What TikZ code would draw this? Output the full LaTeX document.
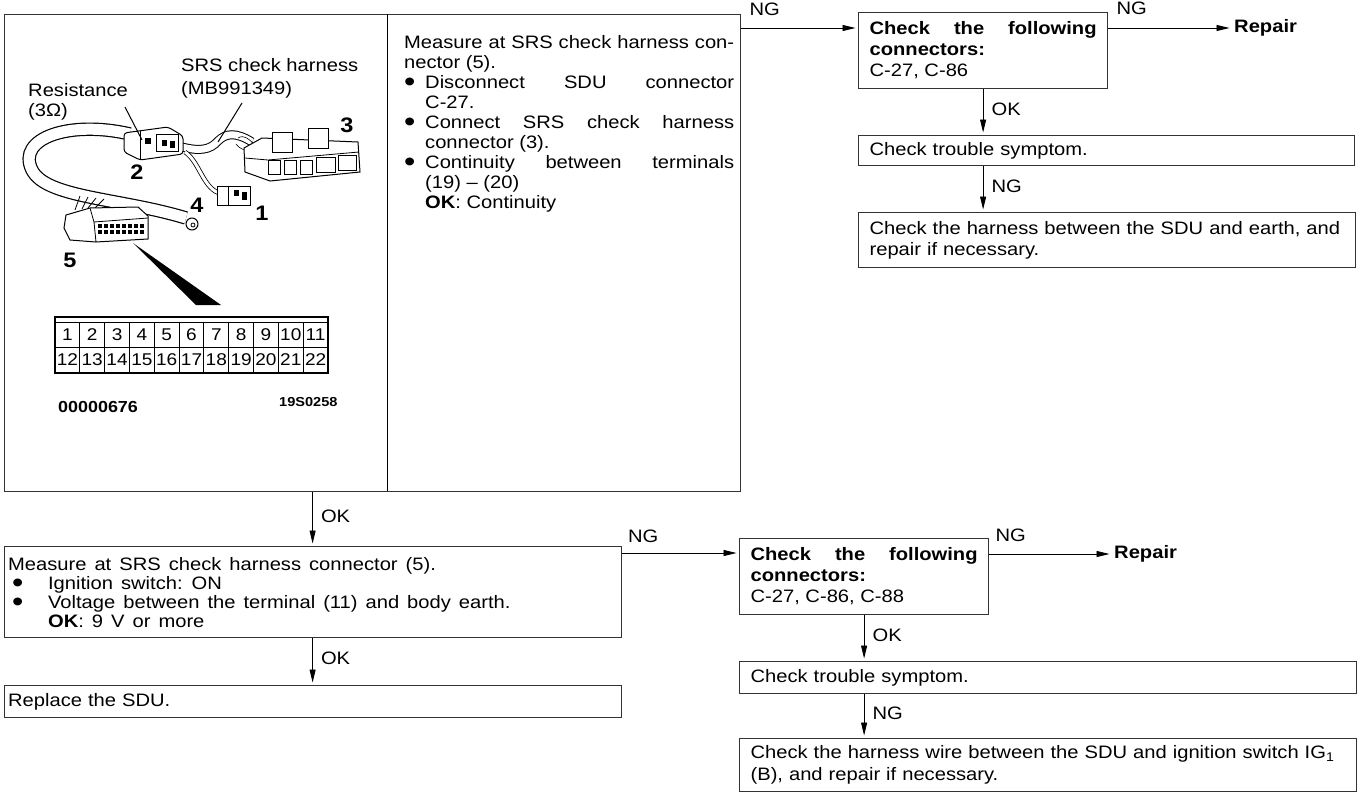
\documentclass[tikz,border=0pt]{standalone}
\usepackage{fontspec}
\usepackage{graphicx}
\setmainfont{Liberation Sans}[FakeStretch=1.12]
\usetikzlibrary{arrows.meta, calc, positioning}
\setlength{\parindent}{0pt}
\newcommand{\boxfont}{\fontsize{18bp}{21bp}\selectfont}
\newcommand{\widespace}{\spaceskip=8bp plus 2bp minus 1bp\relax}
\newcommand{\bigdot}{\raisebox{-3.5bp}[0pt][0pt]{\scalebox{1.6}{\textbullet}}}
\newcommand{\itm}[2][0bp]{\leavevmode\hangindent=#2\hangafter=1\makebox[#2][l]{\hspace{#1}\bigdot}}

\tikzset{
  box/.style={draw=black!80, line width=1.2bp, anchor=north west, inner xsep=11bp, inner ysep=3bp, font=\boxfont, align=left},
  lbl/.style={font=\boxfont, inner sep=2bp},
  flow/.style={->, line width=0.9bp, shorten >=2.5bp},
  part/.style={fill=white, line width=1bp},
  pin/.style={font=\fontsize{17bp}{17bp}\selectfont, inner sep=0pt},
  num/.style={font=\fontsize{21bp}{21bp}\selectfont\bfseries, inner sep=0pt},
}

\begin{document}
\begin{tikzpicture}[x=1bp, y=-1bp, >={Triangle[length=13bp, width=6bp]}]
        \useasboundingbox (0,0) rectangle (1364,792);

        % Hộp bước đầu: hình và chỉ dẫn
        \node[draw=black!80, line width=1.2bp, anchor=north west, minimum width=736bp, minimum height=477bp, inner sep=0pt] (stepA) at (4,14) {};
        \draw[line width=1bp] (387,14) -- (387,491);
        \node[anchor=north west, inner sep=0pt, text width=330bp, align=justify, font=\fontsize{18bp}{20bp}\selectfont] (measA) at (404,35) {Measure at SRS check harness con-\linebreak nector (5).\par
        \itm{21bp}Disconnect SDU connector\linebreak C-27.\par
        \itm{21bp}Connect SRS check harness\linebreak connector (3).\par
        \itm{21bp}Continuity between terminals\linebreak (19) -- (20)\newline\textbf{OK}: Continuity\par};

        % Vẽ bó dây kiểm tra
        \draw[double=white, double distance=11bp, line width=1.2bp] (130,134) .. controls (70,120) and (16,138) .. (32,170) .. controls (46,198) and (120,198) .. (186,218);
        \draw[double=white, double distance=7bp, line width=1bp] (178,146) .. controls (200,152) and (210,150) .. (218,141) .. controls (226,133) and (236,132) .. (252,142);
        \draw[double=white, double distance=3bp, line width=0.8bp] (185,152) .. controls (200,162) and (203,190) .. (222,194);
        \draw[line width=0.6bp] (238,138) .. controls (244,134) and (250,140) .. (256,146);
        \draw[line width=0.6bp] (236,144) .. controls (242,152) and (250,150) .. (258,152);

        % đầu nối 2 (điện trở)
        \filldraw[part, rounded corners=3bp] (124,133) -- (168,127) -- (183,136) -- (183,154) -- (140,160) -- (124,152) -- cycle;
        \draw[line width=0.8bp] (140,131) -- (140,159);
        \fill (145,138) rectangle (151,144);
        \draw[line width=0.8bp] (156,134) rectangle (178,151);
        \fill (162,140) rectangle (167,146);
        \fill (170,141) rectangle (175,148);

        % đầu nối 3
        \filldraw[part] (244,148) -- (262,138) -- (358,142) -- (360,172) -- (270,181) -- (245,172) -- cycle;
        \draw[line width=0.8bp] (245,158) -- (268,160) -- (359,152);
        \filldraw[part] (272,132) rectangle (292,152);
        \filldraw[part] (308,128) rectangle (328,148);
        \foreach \sx in {268,284,300}
            \draw[line width=0.8bp] (\sx,160) rectangle ++(12,14);
        \draw[line width=0.8bp] (316,157) rectangle (335,172);
        \draw[line width=0.8bp] (338,155) rectangle (356,170);

        % đầu nối 1
        \filldraw[part] (217,186) rectangle (250,205);
        \draw[line width=0.8bp] (228,186) -- (228,205);
        \fill (234,190) rectangle (239,196);
        \fill (242,192) rectangle (247,200);

        % đầu nối 4
        \filldraw[part] (192,224) circle (6bp);
        \draw[line width=0.8bp] (193,225) circle (2bp);

        % đầu nối 5
        \draw[line width=0.8bp] (75,210) -- (80,196) (82,209) -- (88,197) (88,208) -- (96,198) (95,208) -- (104,199);
        \filldraw[part] (66,215) -- (90,208) -- (138,207) -- (148,216) -- (148,239) -- (96,242) -- (70,240) -- (64,228) -- cycle;
        \draw[line width=0.8bp] (90,208) -- (94,222) -- (148,218);
        \draw[line width=0.8bp] (94,222) -- (96,242);
        \foreach \px in {98,104,...,144}
            \foreach \py in {224,230}
                \fill (\px,\py) rectangle ++(4,4);

        % nhãn hình
        \draw[line width=1bp] (125,107) -- (142,140);
        \draw[line width=1bp] (242,103) -- (218,142);
        \node[anchor=north west, inner sep=0pt, align=left, font=\fontsize{18bp}{23bp}\selectfont] (harLbl) at (181,58) {SRS check harness\\(MB991349)};
        \node[anchor=north west, inner sep=0pt, align=left, font=\fontsize{18bp}{20bp}\selectfont] (resLbl) at (28,83) {Resistance\\(3Ω)};
        \node[num] (conC) at (347,125) {3};
        \node[num] (conB) at (137,172) {2};
        \node[num] (conD) at (197,205) {4};
        \node[num] (conA) at (262,213) {1};
        \node[num] (conE) at (70,260) {5};

        % bảng chân cắm
        \fill (133,243) -- (196,305) -- (221,305) -- cycle;
        \draw[line width=1.3bp] (55,317) rectangle (328,373);
        \draw[line width=0.8bp] (55,322) -- (328,322);
        \draw[line width=1bp] (55,347) -- (328,347);
        \foreach \c in {1,...,10}
            \draw[line width=1bp] ({55+24.82*\c},322) -- ({55+24.82*\c},373);
        \foreach \c in {1,...,11} {
            \pgfmathtruncatemacro{\b}{\c+11}
            \node[pin] (pinT\c) at ({55+24.82*(\c-0.5)},335) {\c};
            \node[pin] (pinB\c) at ({55+24.82*(\c-0.5)},360) {\b};
        }
        \node[anchor=west, inner sep=0pt, font=\fontsize{16bp}{16bp}\selectfont\bfseries] (figNo) at (58,407) {00000676};
        \node[anchor=west, inner sep=0pt, font=\fontsize{13bp}{13bp}\selectfont\bfseries] (refNo) at (279,402) {19S0258};

        % Nhánh bên phải phía trên
        \node[box, text width=227bp, minimum height=76bp, align=justify] (chkA) at (858,12) {\textbf{Check the following\linebreak connectors:}\\C-27, C-86};
        \node[lbl, anchor=west, font=\boxfont\bfseries] (fixA) at (1232,28) {Repair};
        \node[box, text width=474bp, minimum height=30bp] (symA) at (858,135) {Check trouble symptom.};
        \node[box, text width=475bp, minimum height=55bp] (earA) at (858,212) {Check the harness between the SDU and earth, and\\repair if necessary.};

        \coordinate (ngA) at ([yshift=-14bp]stepA.north east);
        \draw[flow] (ngA) -- (ngA -| chkA.west) node[lbl, pos=0, anchor=south west, xshift=6bp, yshift=10bp] (lblA) {NG};
        \coordinate (ngB) at ([yshift=-16bp]chkA.north east);
        \draw[flow] (ngB) -- (ngB -| fixA.west) node[lbl, pos=0, anchor=south west, xshift=6bp, yshift=11bp] (lblB) {NG};
        \draw[flow] (chkA.south) -- (chkA.south |- symA.north) node[lbl, midway, anchor=west, xshift=6bp, yshift=3bp] (lblC) {OK};
        \draw[flow] (chkA.south |- symA.south) -- (chkA.south |- earA.north) node[lbl, midway, anchor=west, xshift=6bp, yshift=3bp] (lblD) {NG};

        % Nhánh phía dưới
        \node[box, inner xsep=4bp, text width=609bp, minimum height=91bp, font=\fontsize{18bp}{19bp}\selectfont] (meaB) at (3.5,546) {\widespace Measure at SRS check harness connector (5).\par
        \itm[4bp]{40bp}Ignition switch: ON\par
        \itm[4bp]{40bp}Voltage between the terminal (11) and body earth.\newline\textbf{OK}: 9 V or more\par};
        \node[box, inner xsep=4bp, text width=609bp, minimum height=32bp] (sduB) at (3.5,685) {Replace the SDU.};
        \node[box, text width=227bp, minimum height=76bp, align=justify] (chkB) at (739,538) {\textbf{Check the following\linebreak connectors:}\\C-27, C-86, C-88};
        \node[lbl, anchor=west, font=\boxfont\bfseries] (fixB) at (1112,554) {Repair};
        \node[box, text width=595bp, minimum height=32bp] (symB) at (739,661) {Check trouble symptom.};
        \node[box, text width=595bp, minimum height=53bp, font=\fontsize{18bp}{22bp}\selectfont] (wirB) at (739,738) {Check the harness wire between the SDU and ignition switch IG\textsubscript{1}\\(B), and repair if necessary.};

        \draw[flow] (meaB.north |- stepA.south) -- (meaB.north) node[lbl, midway, anchor=west, xshift=6bp, yshift=3bp] (lblE) {OK};
        \draw[flow] (meaB.south) -- (sduB.north) node[lbl, midway, anchor=west, xshift=6bp, yshift=3bp] (lblF) {OK};
        \coordinate (ngC) at ([yshift=-7bp]meaB.north east);
        \draw[flow] (ngC) -- (ngC -| chkB.west) node[lbl, pos=0, anchor=south west, xshift=4bp, yshift=8bp] (lblG) {NG};
        \coordinate (ngD) at ([yshift=-16bp]chkB.north east);
        \draw[flow] (ngD) -- (ngD -| fixB.west) node[lbl, pos=0, anchor=south west, xshift=4bp, yshift=10bp] (lblH) {NG};
        \draw[flow] (chkB.south) -- (chkB.south |- symB.north) node[lbl, midway, anchor=west, xshift=6bp, yshift=3bp] (lblI) {OK};
        \draw[flow] (chkB.south |- symB.south) -- (chkB.south |- wirB.north) node[lbl, midway, anchor=west, xshift=6bp, yshift=3bp] (lblJ) {NG};
\end{tikzpicture}
\end{document}
